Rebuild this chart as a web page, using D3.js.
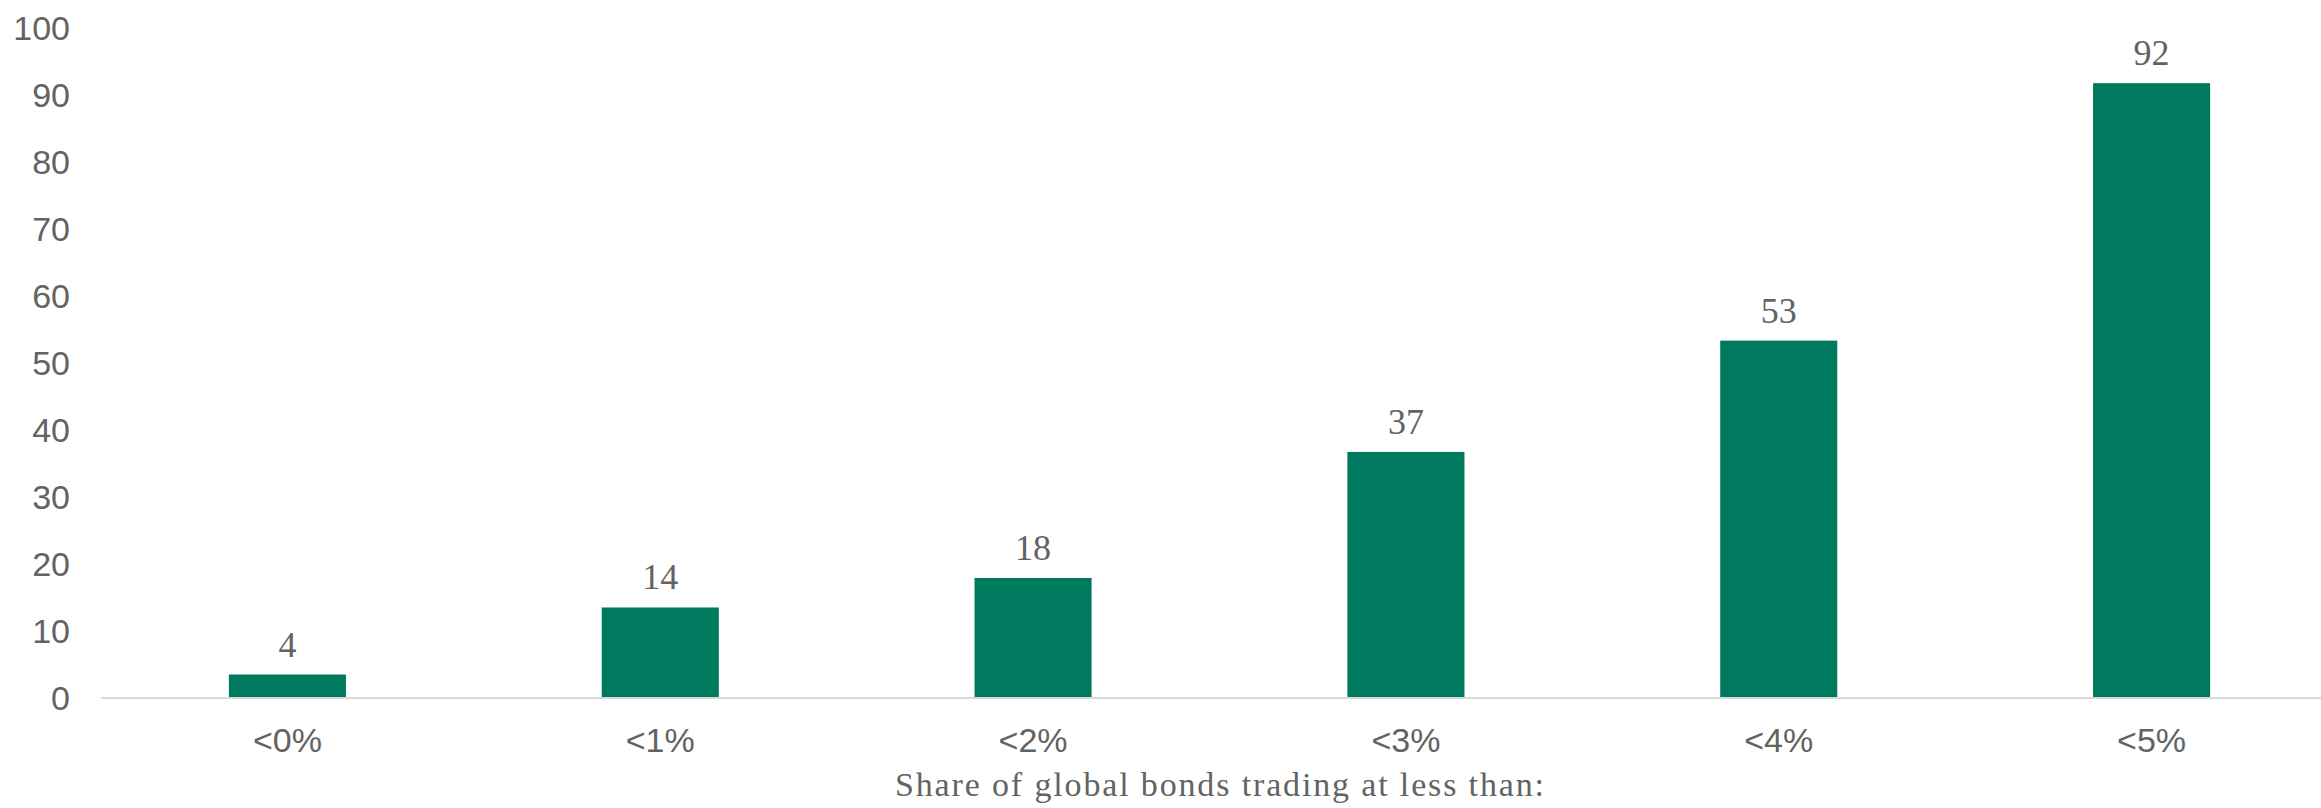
<!DOCTYPE html>
<html>
<head>
<meta charset="utf-8">
<script src="https://cdn.jsdelivr.net/npm/d3@7"></script>
<style>
  html, body { margin: 0; padding: 0; background: #fff; }
  svg { display: block; }
</style>
</head>
<body>
<svg id="chart" width="2321" height="808"></svg>
<script>
// data
var categories = ["<0%", "<1%", "<2%", "<3%", "<4%", "<5%"];
var values = [3.5, 13.5, 17.9, 36.7, 53.3, 91.7];   // bar heights
var labels = ["4", "14", "18", "37", "53", "92"];    // printed values
var yTicks = [0, 10, 20, 30, 40, 50, 60, 70, 80, 90, 100];
var xTitle = "Share of global bonds trading at less than:";

var svg = d3.select("#chart");

// plot area runs a bit past the right edge, like the source crop
var x = d3.scaleBand()
    .domain(categories)
    .range([101, 2338])
    .paddingInner(0.686)
    .paddingOuter(0.343);

var y = d3.scaleLinear()
    .domain([0, 100])
    .range([698, 27.5]);

var grey = "#636363";

// y axis labels only, no line
var yAxis = d3.axisLeft(y).tickValues(yTicks).tickSize(0).tickPadding(0);
var gy = svg.append("g")
    .attr("transform", "translate(70,0)")
    .call(yAxis);
gy.select(".domain").remove();
gy.selectAll(".tick text")
    .attr("fill", grey)
    .attr("font-family", "Liberation Sans, Arial, sans-serif")
    .attr("font-size", 34)
    .attr("dy", "0.34em");

// bars
svg.append("g").selectAll("rect")
    .data(values)
    .enter()
    .append("rect")
    .attr("x", function(d, i) { return x(categories[i]); })
    .attr("y", function(d) { return y(d); })
    .attr("width", x.bandwidth())
    .attr("height", function(d) { return y(0) - y(d); })
    .attr("fill", "#007a5e");

// baseline
svg.append("line")
    .attr("x1", 101).attr("x2", 2321)
    .attr("y1", y(0)).attr("y2", y(0))
    .attr("stroke", "#d9d9d9")
    .attr("stroke-width", 2);

// x axis labels
var xAxis = d3.axisBottom(x).tickSize(0).tickPadding(0);
var gx = svg.append("g")
    .attr("transform", "translate(0," + y(0) + ")")
    .call(xAxis);
gx.select(".domain").remove();
gx.selectAll(".tick text")
    .attr("fill", grey)
    .attr("font-family", "Liberation Sans, Arial, sans-serif")
    .attr("font-size", 34)
    .attr("dy", null)
    .attr("y", 54);

// value labels
svg.append("g").selectAll("text")
    .data(values)
    .enter()
    .append("text")
    .attr("x", function(d, i) { return x(categories[i]) + x.bandwidth() / 2; })
    .attr("y", function(d) { return y(d) - 18; })
    .attr("text-anchor", "middle")
    .attr("fill", grey)
    .attr("font-family", "Liberation Serif, Times New Roman, serif")
    .attr("font-size", 36)
    .text(function(d, i) { return labels[i]; });

// axis title
svg.append("text")
    .attr("x", 1219.5)
    .attr("y", 796)
    .attr("text-anchor", "middle")
    .attr("fill", grey)
    .attr("font-family", "Liberation Serif, Times New Roman, serif")
    .attr("font-size", 34)
    .attr("textLength", 649)
    .attr("lengthAdjust", "spacing")
    .text(xTitle);
</script>
</body>
</html>
